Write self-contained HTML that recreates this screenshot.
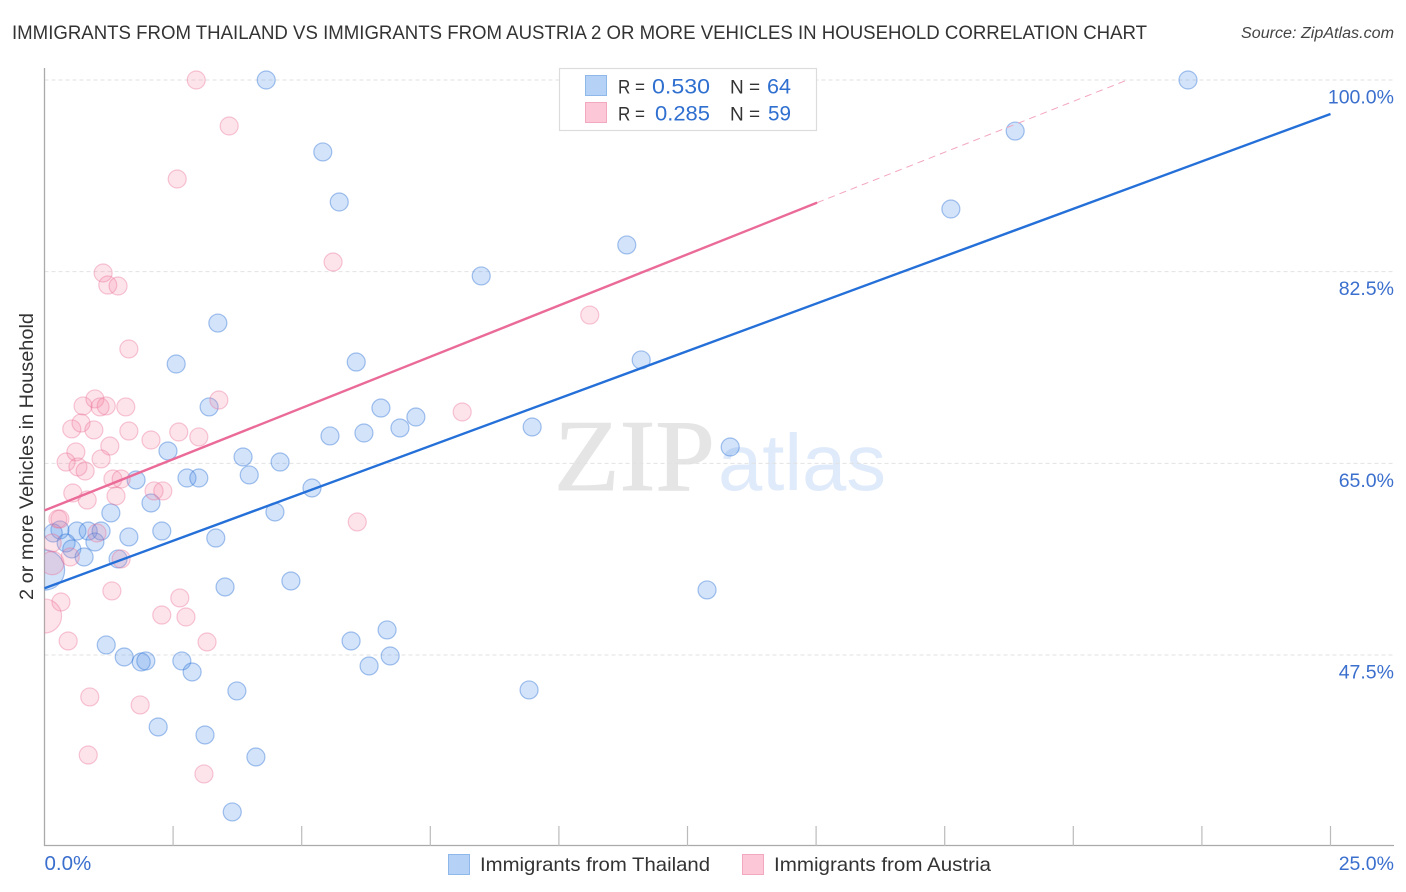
<!DOCTYPE html>
<html lang="en">
<head>
<meta charset="utf-8">
<title>Immigrants from Thailand vs Immigrants from Austria Correlation Chart</title>
<style>
html,body{margin:0;padding:0;background:#fff;}
body{width:1406px;height:892px;overflow:hidden;font-family:"Liberation Sans",sans-serif;}
svg{display:block;}
text{font-family:"Liberation Sans",sans-serif;}
</style>
</head>
<body>
<svg id="chart" xmlns="http://www.w3.org/2000/svg" width="1406" height="892" viewBox="0 0 1406 892">
  <defs>
    <clipPath id="plot-clip"><rect x="44.5" y="60" width="1350" height="786"/></clipPath>
  </defs>
  <rect x="0" y="0" width="1406" height="892" fill="#fff"/>
  <text x="12" y="39" font-size="19.6" fill="#333" textLength="1135" lengthAdjust="spacingAndGlyphs">IMMIGRANTS FROM THAILAND VS IMMIGRANTS FROM AUSTRIA 2 OR MORE VEHICLES IN HOUSEHOLD CORRELATION CHART</text>
  <text x="1241" y="38" font-size="15.5" font-style="italic" fill="#444" textLength="153" lengthAdjust="spacingAndGlyphs">Source: ZipAtlas.com</text>
  <g>
    <text x="554" y="490" font-size="102" fill="#e5e5e5" stroke="#e5e5e5" stroke-width="1" textLength="161" lengthAdjust="spacingAndGlyphs" style="font-family:'Liberation Serif',serif">ZIP</text>
    <text x="718" y="490" font-size="80" fill="#dfeafa" textLength="168" lengthAdjust="spacingAndGlyphs">atlas</text>
  </g>
  <g id="grid"></g>
  <g id="axes"></g>
  <g id="points" clip-path="url(#plot-clip)"></g>
  <g id="trends"></g>
  <text transform="translate(33,456.5) rotate(-90)" font-size="19.6" fill="#333" text-anchor="middle" textLength="287" lengthAdjust="spacingAndGlyphs">2 or more Vehicles in Household</text>
  <g>
    <rect x="559.5" y="68.5" width="257" height="62" fill="#fff" stroke="#dcdcdc" stroke-width="1.2"/>
    <rect x="585.5" y="75.5" width="21" height="20" fill="#b5d2f6" stroke="#8fb8ea" stroke-width="1"/>
    <rect x="585.5" y="102.5" width="21" height="20" fill="#fcc8d8" stroke="#f2a9c0" stroke-width="1"/>
    <text x="618" y="93.5" font-size="19" fill="#333" textLength="27" lengthAdjust="spacingAndGlyphs">R =</text>
    <text x="652" y="93.5" font-size="21" fill="#2f6fd0" textLength="58" lengthAdjust="spacingAndGlyphs">0.530</text>
    <text x="730" y="93.5" font-size="19" fill="#333">N =</text>
    <text x="767" y="93.5" font-size="21" fill="#2f6fd0" textLength="24" lengthAdjust="spacingAndGlyphs">64</text>
    <text x="618" y="120.5" font-size="19" fill="#333" textLength="27" lengthAdjust="spacingAndGlyphs">R =</text>
    <text x="655" y="120.5" font-size="21" fill="#2f6fd0" textLength="55" lengthAdjust="spacingAndGlyphs">0.285</text>
    <text x="730" y="120.5" font-size="19" fill="#333">N =</text>
    <text x="768" y="120.5" font-size="21" fill="#2f6fd0" textLength="23" lengthAdjust="spacingAndGlyphs">59</text>
  </g>
  <g>
    <rect x="448.5" y="854.5" width="21" height="20" fill="#b5d2f6" stroke="#8fb8ea" stroke-width="1"/>
    <text x="480" y="871" font-size="19.5" fill="#333" textLength="230" lengthAdjust="spacingAndGlyphs">Immigrants from Thailand</text>
    <rect x="742.5" y="854.5" width="21" height="20" fill="#fcc8d8" stroke="#f2a9c0" stroke-width="1"/>
    <text x="774" y="871" font-size="19.5" fill="#333" textLength="217" lengthAdjust="spacingAndGlyphs">Immigrants from Austria</text>
  </g>
</svg>
<script>
const xTickValues = [0, 2.5, 5, 7.5, 10, 12.5, 15, 17.5, 20, 22.5, 25];
const xTickLabels = ["0.0%", "25.0%"];
const xLabelValues = [0, 25];
const yTickValues = [47.5, 65, 82.5, 100];
const yTickLabels = ["47.5%", "65.0%", "82.5%", "100.0%"];
const thailandTrend = [[0, 53.6], [25, 96.9]];
const austriaTrend = [[0, 60.7], [15.02, 88.8]];
const austriaTrendExtension = [[15.02, 88.8], [21.05, 100]];
const thailandPoints = [
[4.31,100,1],[22.23,100,1],[18.87,95.34,1],[5.41,93.43,1],[5.73,88.86,1],[17.62,88.22,1],[11.32,84.94,1],[8.49,82.11,1],
[3.37,77.81,1],[11.6,74.44,1],[6.06,74.25,1],[2.56,74.07,1],[3.2,70.15,1],[6.54,70.05,1],[7.22,69.23,1],[9.48,68.32,1],
[6.91,68.23,1],[6.21,67.77,1],[5.55,67.5,1],[13.33,66.49,1],[2.4,66.13,1],[3.86,65.58,1],[4.58,65.12,1],[2.77,63.66,1],
[3.0,63.66,1],[3.98,63.94,1],[1.78,63.48,1],[5.2,62.75,1],[2.07,61.38,1],[1.29,60.47,1],[4.48,60.56,1],[2.28,58.82,1],
[3.33,58.18,1],[1.64,58.28,1],[0.3,58.92,1],[0.17,58.64,1],[0.63,58.82,1],[0.85,58.82,1],[1.1,58.82,1],[0.98,57.82,1],
[0.42,57.73,1],[0.53,57.18,1],[0.77,56.45,1],[1.43,56.27,1],[0,55.26,5],[3.51,53.71,1],[4.79,54.26,1],[12.88,53.44,1],
[1.2,48.42,1],[1.55,47.32,1],[1.88,46.86,1],[1.97,46.96,1],[2.67,46.96,1],[2.87,45.95,1],[5.96,48.78,1],[6.66,49.79,1],
[6.72,47.41,1],[6.31,46.5,1],[3.74,44.22,1],[9.42,44.31,1],[2.21,40.93,1],[3.12,40.2,1],[4.11,38.19,1],[3.65,33.17,1]
];
const austriaPoints = [
[2.95,100,1],[3.59,95.8,1],[2.58,90.96,1],[5.61,83.38,1],[1.14,82.38,1],[1.23,81.28,1],[1.43,81.19,1],[1.64,75.44,1],
[10.6,78.54,1],[3.39,70.78,1],[0.75,70.24,1],[0.98,70.88,1],[1.08,70.15,1],[1.2,70.24,1],[1.58,70.15,1],[8.12,69.69,1],
[0.53,68.14,1],[0.71,68.68,1],[0.96,68.05,1],[1.64,67.95,1],[2.07,67.13,1],[2.61,67.86,1],[3.0,67.41,1],[1.27,66.58,1],
[0.61,66.04,1],[1.1,65.4,1],[0.42,65.12,1],[0.65,64.67,1],[0.79,64.3,1],[1.33,63.57,1],[1.49,63.57,1],[0.55,62.29,1],
[0.83,61.65,1],[1.39,62.02,1],[2.13,62.48,1],[2.3,62.48,1],[6.08,59.65,1],[0.26,59.92,1],[0.3,59.92,1],[1.02,58.64,1],
[0.15,57.73,1],[0.5,56.45,1],[0.15,55.9,1.7],[1.49,56.27,1],[1.31,53.35,1],[0.32,52.34,1],[0,51.06,3.6],[0.46,48.78,1],
[2.28,51.15,1],[2.63,52.71,1],[2.75,50.97,1],[3.16,48.69,1],[0.88,43.67,1],[1.86,42.94,1],[0.85,38.37,1],[3.1,36.64,1]
];

const SVGNS = 'http://www.w3.org/2000/svg';
const xScale = v => 44.5 + v / 25 * 1286;
const yScale = v => 80 + (100 - v) / 17.5 * 191.67;
function make(tag, attrs, parent) {
  const el = document.createElementNS(SVGNS, tag);
  for (const k in attrs) el.setAttribute(k, attrs[k]);
  parent.appendChild(el);
  return el;
}
const gridG = document.getElementById('grid');
const axesG = document.getElementById('axes');
const pointsG = document.getElementById('points');
const trendsG = document.getElementById('trends');

yTickValues.forEach((v, i) => {
  const line = make('line', {x1: 44.5, x2: 1394, y1: yScale(v), y2: yScale(v), stroke: '#e2e2e2', 'stroke-width': 1, 'stroke-dasharray': '4 3'}, gridG);
  
  
  const label = make('text', {x: 1394, y: yScale(v) + 23.5, 'font-size': 19.5, fill: '#3b6fce', 'text-anchor': 'end'}, axesG);
  label.textContent = yTickLabels[i];
  
  
});

const yAxis = make('line', {x1: 44.5, x2: 44.5, y1: 68, y2: 846, stroke: '#aaa', 'stroke-width': 1.3}, axesG);


const xAxis = make('line', {x1: 44, x2: 1394, y1: 845.5, y2: 845.5, stroke: '#aaa', 'stroke-width': 1.3}, axesG);



xTickValues.slice(1).forEach(v => {
  const tick = make('line', {x1: xScale(v), x2: xScale(v), y1: 826, y2: 846, stroke: '#bbb', 'stroke-width': 1.2}, axesG);
  
  
});
xLabelValues.forEach((v, i) => {
  const label = make('text', {x: i === 0 ? xScale(v) : 1394, y: 870, 'font-size': i === 0 ? 20.5 : 19.5, fill: '#3b6fce', 'text-anchor': i === 0 ? 'start' : 'end'}, axesG);
  label.textContent = xTickLabels[i];
  
  
});

thailandPoints.forEach(p => {
  const c = make('circle', {cx: xScale(p[0]), cy: yScale(p[1]), r: 9 * Math.sqrt(p[2]), fill: 'rgba(80,145,230,0.25)', stroke: 'rgba(45,115,215,0.42)', 'stroke-width': 1.2}, pointsG);
  
  
});
austriaPoints.forEach(p => {
  const c = make('circle', {cx: xScale(p[0]), cy: yScale(p[1]), r: 9 * Math.sqrt(p[2]), fill: 'rgba(245,130,165,0.22)', stroke: 'rgba(235,110,150,0.38)', 'stroke-width': 1.2}, pointsG);
  
  
});

const ext = make('line', {x1: xScale(austriaTrendExtension[0][0]), y1: yScale(austriaTrendExtension[0][1]), x2: xScale(austriaTrendExtension[1][0]), y2: yScale(austriaTrendExtension[1][1]), stroke: '#f2a6bf', 'stroke-width': 1, 'stroke-dasharray': '7 5'}, trendsG);


const pinkLine = make('line', {x1: xScale(austriaTrend[0][0]), y1: yScale(austriaTrend[0][1]), x2: xScale(austriaTrend[1][0]), y2: yScale(austriaTrend[1][1]), stroke: '#ea6a98', 'stroke-width': 2.4}, trendsG);


const blueLine = make('line', {x1: xScale(thailandTrend[0][0]), y1: yScale(thailandTrend[0][1]), x2: xScale(thailandTrend[1][0]), y2: yScale(thailandTrend[1][1]), stroke: '#2570d8', 'stroke-width': 2.4}, trendsG);


</script>
</body>
</html>
